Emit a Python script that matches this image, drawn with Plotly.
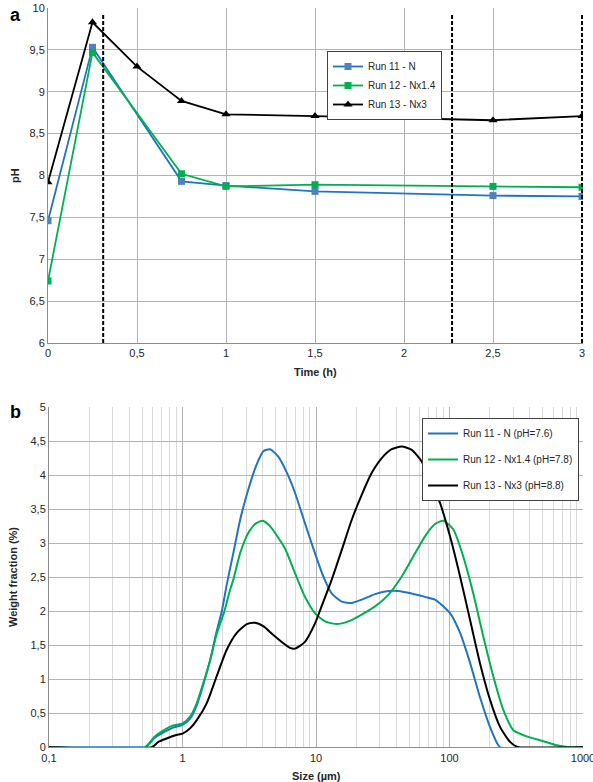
import plotly.graph_objects as go

# ---------------- Panel a data: pH vs time ----------------
time_h = [0, 0.25, 0.5, 0.75, 1, 1.5, 2.5, 3]
time_h_11 = [0, 0.25, 0.75, 1, 1.5, 2.5, 3]
ph_run11 = [7.46, 9.53, 7.93, 7.88, 7.81, 7.76, 7.75]
time_h_12 = [0, 0.25, 0.75, 1, 1.5, 2.5, 3]
ph_run12 = [6.74, 9.47, 8.02, 7.87, 7.89, 7.87, 7.86]
ph_run13 = [7.92, 9.83, 9.30, 8.89, 8.73, 8.71, 8.66, 8.71]
phase_times = [0.31, 2.27, 3.0]
phase_top = 9.92

ph_ticks = [6, 6.5, 7, 7.5, 8, 8.5, 9, 9.5, 10]
ph_ticktext = ["6", "6,5", "7", "7,5", "8", "8,5", "9", "9,5", "10"]
time_ticks = [0, 0.5, 1, 1.5, 2, 2.5, 3]
time_ticktext = ["0", "0,5", "1", "1,5", "2", "2,5", "3"]

# ---------------- Panel b data: size distribution ----------------
size_11 = [0.1, 0.5, 0.53, 0.62, 0.72, 0.85, 1.0, 1.14, 1.28, 1.43, 1.61, 1.80, 1.97, 2.14,
           2.40, 2.70, 3.06, 3.55, 4.03, 4.52, 5.22, 6.0, 6.96, 8.27, 9.83, 11.35, 13.1,
           15.6, 18.5, 22.0, 27.7, 32.9, 39.1, 49.1, 65.5, 77.8, 100.9, 120, 142.6, 169,
           201, 232, 240, 1000]
wf_11 = [0, 0, 0, 0.14, 0.22, 0.29, 0.33, 0.42, 0.62, 0.92, 1.28, 1.70, 2.00, 2.38,
         2.85, 3.34, 3.74, 4.13, 4.35, 4.38, 4.27, 4.05, 3.74, 3.29, 2.85, 2.51, 2.26,
         2.14, 2.12, 2.17, 2.25, 2.29, 2.30, 2.27, 2.21, 2.17, 1.97, 1.68, 1.24, 0.74,
         0.30, 0.03, 0, 0]

size_12 = [0.1, 0.52, 0.62, 0.72, 0.85, 1.0, 1.14, 1.28, 1.43, 1.61, 1.80, 2.06, 2.27,
           2.40, 2.70, 3.11, 3.55, 3.99, 4.52, 5.22, 5.86, 6.96, 8.27, 9.83, 11.7, 14.3,
           17.5, 22.0, 27.7, 34.8, 43.9, 55.2, 65.5, 77.8, 89.9, 106.9, 126.9, 150.7,
           179, 213, 253, 301, 379, 505, 636, 800, 1000]
wf_12 = [0, 0, 0.16, 0.25, 0.32, 0.35, 0.45, 0.65, 0.94, 1.28, 1.66, 2.00, 2.31,
         2.46, 2.85, 3.15, 3.29, 3.33, 3.25, 3.08, 2.92, 2.56, 2.21, 1.97, 1.85, 1.81,
         1.85, 1.95, 2.07, 2.24, 2.51, 2.85, 3.10, 3.28, 3.33, 3.20, 2.80, 2.26,
         1.63, 1.04, 0.55, 0.25, 0.16, 0.09, 0.03, 0, 0]

size_13 = [0.1, 0.59, 0.66, 0.76, 0.90, 1.0, 1.14, 1.28, 1.52, 1.80, 2.14, 2.55, 3.03,
           3.49, 4.03, 4.79, 5.69, 6.38, 6.96, 8.27, 9.83, 11.0, 13.1, 15.6, 18.5, 22.0,
           26.1, 31.1, 36.9, 43.9, 52.1, 61.9, 73.6, 84.9, 100.9, 120, 142.6, 169, 201,
           239, 284, 318, 330, 1000]
wf_13 = [0, 0, 0.08, 0.13, 0.18, 0.20, 0.28, 0.40, 0.65, 1.04, 1.43, 1.68, 1.81,
         1.83, 1.78, 1.65, 1.53, 1.46, 1.45, 1.55, 1.82, 2.07, 2.46, 2.90, 3.34, 3.71,
         4.03, 4.25, 4.38, 4.42, 4.37, 4.20, 3.88, 3.59, 3.10, 2.51, 1.87, 1.24, 0.70,
         0.30, 0.08, 0.01, 0, 0]

wf_ticks = [0, 0.5, 1, 1.5, 2, 2.5, 3, 3.5, 4, 4.5, 5]
wf_ticktext = ["0", "0,5", "1", "1,5", "2", "2,5", "3", "3,5", "4", "4,5", "5"]
size_ticks = [0.1, 1, 10, 100, 1000]
size_ticktext = ["0,1", "1", "10", "100", "1000"]

BLUE_LINE = "#1f74c4"
BLUE_MARK = "#4f81bd"
GREEN = "#00b050"
BLACK = "#000000"
FONT = "Liberation Sans, Arial, sans-serif"
GRID = "#b4b4b4"
MINOR = "#dadada"
AXLINE = "#8c8c8c"

W, H = 593, 782


def px_x(p):
    return p / W


def px_y(p):
    return 1 - p / H


fig = go.Figure()

fig.add_trace(go.Scatter(x=time_h_11, y=ph_run11, mode="lines+markers", name="Run 11 - N",
                         line=dict(color=BLUE_LINE, width=1.8),
                         marker=dict(symbol="square", size=7, color=BLUE_MARK),
                         xaxis="x", yaxis="y", legend="legend"))
fig.add_trace(go.Scatter(x=time_h_12, y=ph_run12, mode="lines+markers", name="Run 12 - Nx1.4",
                         line=dict(color=GREEN, width=1.8),
                         marker=dict(symbol="square", size=7, color=GREEN),
                         xaxis="x", yaxis="y", legend="legend"))
fig.add_trace(go.Scatter(x=time_h, y=ph_run13, mode="lines+markers", name="Run 13 - Nx3",
                         line=dict(color=BLACK, width=1.8),
                         marker=dict(symbol="triangle-up", size=8, color=BLACK),
                         xaxis="x", yaxis="y", legend="legend"))

for t in phase_times:
    fig.add_trace(go.Scatter(x=[t, t], y=[ph_ticks[0], phase_top], mode="lines",
                             line=dict(color="black", width=2, dash="4px,2px"),
                             showlegend=False, hoverinfo="skip", xaxis="x", yaxis="y"))

fig.add_trace(go.Scatter(x=size_11, y=wf_11, mode="lines", name="Run 11 - N (pH=7.6)",
                         line=dict(color=BLUE_LINE, width=2, shape="spline", smoothing=0.6),
                         xaxis="x2", yaxis="y2", legend="legend2", legendgroup="g1"))
fig.add_trace(go.Scatter(x=size_12, y=wf_12, mode="lines", name="Run 12 - Nx1.4 (pH=7.8)",
                         line=dict(color=GREEN, width=2, shape="spline", smoothing=0.6),
                         xaxis="x2", yaxis="y2", legend="legend2", legendgroup="g2"))
fig.add_trace(go.Scatter(x=size_13, y=wf_13, mode="lines", name="Run 13 - Nx3 (pH=8.8)",
                         line=dict(color=BLACK, width=2, shape="spline", smoothing=0.6),
                         xaxis="x2", yaxis="y2", legend="legend2", legendgroup="g3"))

tickfont = dict(family=FONT, size=11, color="#262626")
x_end_a = time_ticks[-1] * (1 + 1 / 534)

fig.update_layout(
    width=W, height=H, autosize=False,
    margin=dict(l=0, r=0, t=0, b=0, pad=0),
    paper_bgcolor="white", plot_bgcolor="white",
    font=dict(family=FONT, size=11, color="#262626"),
    xaxis=dict(domain=[px_x(48), px_x(583)], range=[0, x_end_a], tickmode="array",
               tickvals=time_ticks, ticktext=time_ticktext, showgrid=True, gridcolor=GRID,
               gridwidth=1, showline=True, linecolor=AXLINE, mirror=False, zeroline=False,
               ticks="", tickfont=tickfont, automargin=False, anchor="y",
               ticklabeloverflow="allow"),
    yaxis=dict(domain=[px_y(343), px_y(8)], range=[6, 10], tickmode="array",
               tickvals=ph_ticks, ticktext=ph_ticktext, showgrid=True, gridcolor=GRID,
               gridwidth=1, showline=True, linecolor=AXLINE, mirror=False, zeroline=False,
               ticks="", tickfont=tickfont, automargin=False, anchor="x"),
    xaxis2=dict(domain=[px_x(49), px_x(583)], type="log", range=[-1, 3], tickmode="array",
                tickvals=size_ticks, ticktext=size_ticktext, showgrid=True, gridcolor=GRID,
                gridwidth=1, showline=True, linecolor=AXLINE, mirror=False, zeroline=False,
                ticks="", tickfont=tickfont, automargin=False, anchor="y2",
                ticklabeloverflow="allow",
                minor=dict(dtick="D1", showgrid=True, gridcolor=MINOR, gridwidth=1, ticks="")),
    yaxis2=dict(domain=[px_y(747.3), px_y(407)], range=[0, 5], tickmode="array",
                tickvals=wf_ticks, ticktext=wf_ticktext, showgrid=True, gridcolor=GRID,
                gridwidth=1, showline=True, linecolor=AXLINE, mirror=False, zeroline=False,
                ticks="", tickfont=tickfont, automargin=False, anchor="x2"),
    legend=dict(x=px_x(442), y=px_y(51), xanchor="right", yanchor="top",
                bgcolor="white", bordercolor="#404040", borderwidth=1,
                font=dict(family=FONT, size=10, color="#262626"),
                itemwidth=30, tracegroupgap=0),
    legend2=dict(x=px_x(579), y=px_y(418), xanchor="right", yanchor="top",
                 bgcolor="white", bordercolor="#404040", borderwidth=1,
                 font=dict(family=FONT, size=10, color="#262626"),
                 itemwidth=30, tracegroupgap=7),
    showlegend=True,
)

ann = [
    dict(text="<b>a</b>", x=px_x(8), y=px_y(15), xanchor="left", yanchor="middle",
         font=dict(family=FONT, size=18, color="black")),
    dict(text="<b>b</b>", x=px_x(8), y=px_y(412), xanchor="left", yanchor="middle",
         font=dict(family=FONT, size=18, color="black")),
    dict(text="<b>Time (h)</b>", x=px_x(315), y=px_y(372), xanchor="center", yanchor="middle",
         font=dict(family=FONT, size=11, color="#262626")),
    dict(text="<b>Size (µm)</b>", x=px_x(316), y=px_y(776), xanchor="center", yanchor="middle",
         font=dict(family=FONT, size=11, color="#262626")),
    dict(text="<b>pH</b>", x=px_x(15), y=px_y(176), xanchor="center", yanchor="middle",
         textangle=-90, font=dict(family=FONT, size=11, color="#262626")),
    dict(text="<b>Weight fraction (%)</b>", x=px_x(13), y=px_y(577), xanchor="center",
         yanchor="middle", textangle=-90, font=dict(family=FONT, size=11, color="#262626")),
]
for a in ann:
    a.update(xref="paper", yref="paper", showarrow=False)
fig.update_layout(annotations=ann)

fig.write_html(
    "out.html",
    config={"responsive": False},
    post_script="document.body.style.margin='0';document.body.style.overflow='hidden';"
                "document.documentElement.style.overflow='hidden';",
)
